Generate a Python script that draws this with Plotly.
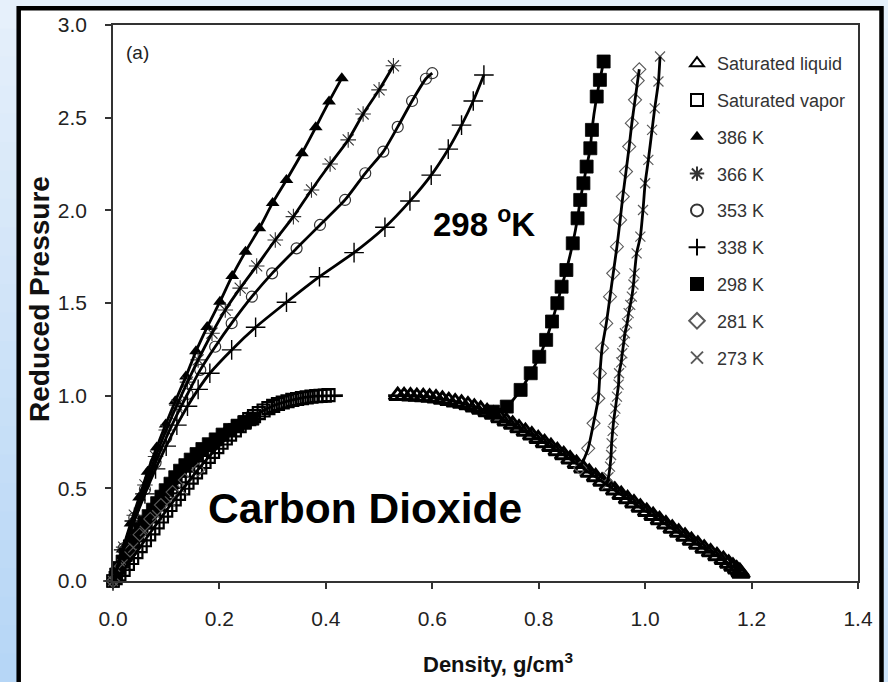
import plotly.graph_objects as go

# ---------------- data ----------------
# Saturated liquid (open triangles)
sl_d = [0.535, 0.547, 0.559, 0.571, 0.583, 0.595, 0.607, 0.619, 0.631, 0.643, 0.655, 0.667,
        0.679, 0.691, 0.703, 0.715, 0.727, 0.739, 0.751, 0.763, 0.775, 0.787, 0.799, 0.811,
        0.823, 0.835, 0.847, 0.859, 0.871, 0.883, 0.895, 0.907, 0.919, 0.931, 0.943, 0.955,
        0.967, 0.979, 0.991, 1.003, 1.015, 1.027, 1.039, 1.051, 1.063, 1.075, 1.087, 1.099,
        1.111, 1.123, 1.135, 1.147, 1.157, 1.165, 1.172, 1.178, 1.180]
sl_p = [1.000, 0.999, 0.997, 0.995, 0.993, 0.990, 0.986, 0.979, 0.972, 0.965, 0.958, 0.949,
        0.937, 0.925, 0.912, 0.898, 0.880, 0.862, 0.844, 0.825, 0.806, 0.786, 0.767, 0.745,
        0.724, 0.702, 0.680, 0.657, 0.633, 0.609, 0.585, 0.561, 0.537, 0.513, 0.489, 0.465,
        0.442, 0.420, 0.397, 0.374, 0.352, 0.329, 0.306, 0.283, 0.262, 0.240, 0.218, 0.197,
        0.176, 0.156, 0.135, 0.115, 0.095, 0.078, 0.064, 0.050, 0.040]

# Saturated vapor (open squares)
sv_d = [0.005, 0.012, 0.020, 0.028, 0.036, 0.044, 0.052, 0.060, 0.068, 0.076, 0.084, 0.092,
        0.100, 0.108, 0.116, 0.124, 0.132, 0.140, 0.148, 0.156, 0.164, 0.172, 0.180, 0.188,
        0.196, 0.204, 0.212, 0.220, 0.229, 0.238, 0.247, 0.256, 0.265, 0.274, 0.283, 0.292,
        0.301, 0.310, 0.319, 0.328, 0.337, 0.346, 0.355, 0.364, 0.373, 0.382, 0.390, 0.398, 0.405]
sv_p = [0.015, 0.036, 0.060, 0.092, 0.124, 0.156, 0.188, 0.220, 0.252, 0.284, 0.316, 0.348,
        0.380, 0.410, 0.440, 0.470, 0.500, 0.530, 0.558, 0.586, 0.613, 0.642, 0.670, 0.697,
        0.722, 0.746, 0.769, 0.790, 0.813, 0.835, 0.855, 0.873, 0.890, 0.906, 0.920, 0.933,
        0.945, 0.955, 0.963, 0.970, 0.977, 0.982, 0.987, 0.991, 0.995, 0.997, 0.999, 1.000, 1.003]

# Model lines for the saturation curves
svl_d = [0.0, 0.02, 0.06, 0.10, 0.14, 0.18, 0.22, 0.26, 0.30, 0.34, 0.38, 0.432]
svl_p = [0.0, 0.06, 0.22, 0.38, 0.53, 0.67, 0.79, 0.88, 0.944, 0.979, 0.997, 1.0]
sll_d = [0.517, 0.56, 0.60, 0.66, 0.71, 0.76, 0.80, 0.85, 0.90, 0.95, 1.00, 1.05, 1.10, 1.15, 1.18]
sll_p = [1.0, 0.998, 0.99, 0.955, 0.905, 0.83, 0.765, 0.675, 0.575, 0.475, 0.38, 0.285, 0.195, 0.11, 0.045]

# Supercritical isotherms
t386_d = [0, 0.018, 0.033, 0.049, 0.065, 0.082, 0.099, 0.117, 0.137, 0.156, 0.177, 0.201,
          0.224, 0.249, 0.275, 0.300, 0.326, 0.355, 0.381, 0.406, 0.430]
t386_p = [0, 0.17, 0.31, 0.45, 0.59, 0.72, 0.845, 0.97, 1.103, 1.24, 1.37, 1.507,
          1.646, 1.777, 1.903, 2.04, 2.164, 2.308, 2.448, 2.587, 2.713]
t366_d = [0, 0.02, 0.04, 0.06, 0.08, 0.10, 0.12, 0.14, 0.160, 0.186, 0.211, 0.239,
          0.270, 0.305, 0.339, 0.373, 0.408, 0.442, 0.470, 0.500, 0.527]
t366_p = [0, 0.183, 0.355, 0.518, 0.672, 0.815, 0.949, 1.073, 1.193, 1.337, 1.462, 1.58,
          1.70, 1.84, 1.966, 2.11, 2.25, 2.38, 2.52, 2.65, 2.78]
t353_d = [0, 0.02, 0.04, 0.06, 0.08, 0.10, 0.12, 0.14, 0.164, 0.192, 0.223, 0.261,
          0.299, 0.345, 0.389, 0.436, 0.474, 0.508, 0.535, 0.562, 0.588, 0.600]
t353_p = [0, 0.176, 0.341, 0.495, 0.639, 0.773, 0.896, 1.009, 1.139, 1.264, 1.391, 1.534,
          1.66, 1.795, 1.921, 2.056, 2.2, 2.317, 2.45, 2.59, 2.71, 2.74]
t338_d = [0, 0.02, 0.04, 0.06, 0.08, 0.10, 0.12, 0.14, 0.16, 0.182, 0.223, 0.268,
          0.326, 0.388, 0.453, 0.511, 0.558, 0.598, 0.630, 0.655, 0.677, 0.697]
t338_p = [0, 0.168, 0.324, 0.47, 0.605, 0.728, 0.841, 0.943, 1.034, 1.121, 1.247, 1.369,
          1.504, 1.642, 1.772, 1.909, 2.05, 2.19, 2.33, 2.46, 2.59, 2.73]

# Subcritical isotherms: vapour branch and liquid branch
t298_vap_d = [0.0, 0.006, 0.012, 0.018, 0.024, 0.031, 0.038, 0.045, 0.052, 0.059, 0.067, 0.075,
              0.083, 0.091, 0.099, 0.108, 0.117, 0.126, 0.136, 0.146, 0.157, 0.168, 0.180,
              0.193, 0.206, 0.220, 0.234, 0.248, 0.262]
t298_vap_p = [0.0, 0.035, 0.07, 0.105, 0.14, 0.175, 0.21, 0.245, 0.28, 0.315, 0.35, 0.385,
              0.42, 0.455, 0.49, 0.525, 0.56, 0.595, 0.625, 0.655, 0.685, 0.712, 0.738,
              0.764, 0.79, 0.815, 0.838, 0.858, 0.876]
t298_liq_d = [0.714, 0.740, 0.766, 0.785, 0.801, 0.814, 0.825, 0.835, 0.843, 0.852, 0.864, 0.873,
              0.878, 0.884, 0.890, 0.897, 0.900, 0.909, 0.915, 0.922]
t298_liq_p = [0.914, 0.941, 1.031, 1.121, 1.210, 1.301, 1.400, 1.499, 1.588, 1.678, 1.822, 1.957,
              2.056, 2.146, 2.236, 2.335, 2.434, 2.614, 2.704, 2.803]
t281_vap_d = [0.0, 0.015, 0.032, 0.050, 0.070, 0.090, 0.112, 0.135, 0.160]
t281_vap_p = [0.0, 0.08, 0.165, 0.25, 0.335, 0.41, 0.48, 0.545, 0.60]
t281_liq_d = [0.878, 0.893, 0.903, 0.912, 0.915, 0.919, 0.927, 0.934, 0.940, 0.947, 0.953, 0.958,
              0.964, 0.970, 0.975, 0.981, 0.986, 0.989]
t281_liq_p = [0.61, 0.716, 0.851, 0.986, 1.12, 1.256, 1.39, 1.534, 1.66, 1.804, 1.948, 2.074,
              2.209, 2.344, 2.47, 2.596, 2.70, 2.761]
t273_vap_d = [0.0, 0.018, 0.038, 0.060, 0.083, 0.107, 0.130]
t273_vap_p = [0.0, 0.09, 0.18, 0.27, 0.355, 0.43, 0.49]
t273_liq_d = [0.928, 0.931, 0.934, 0.936, 0.937, 0.939, 0.941, 0.944, 0.947, 0.950, 0.951, 0.955,
              0.957, 0.960, 0.962, 0.966, 0.969, 0.972, 0.975, 0.978, 0.980, 0.984, 0.991, 0.996,
              1.000, 1.006, 1.013, 1.018, 1.025, 1.028]
t273_liq_p = [0.52, 0.56, 0.617, 0.68, 0.743, 0.81, 0.869, 0.93, 0.995, 1.06, 1.121, 1.18,
              1.229, 1.29, 1.337, 1.39, 1.445, 1.49, 1.534, 1.60, 1.66, 1.768, 1.858, 2.002,
              2.146, 2.272, 2.434, 2.55, 2.695, 2.83]

x_ticks = [0.0, 0.2, 0.4, 0.6, 0.8, 1.0, 1.2, 1.4]
y_ticks = [0.0, 0.5, 1.0, 1.5, 2.0, 2.5, 3.0]

# ---------------- styling ----------------
SANS = "Liberation Sans, Arial, sans-serif"
GRAY = "#5a5a5a"

L, R, T, B = 113, 858, 25, 581
W, H = R - L, B - T


def xp(px):
    return (px - L) / W


def yp(py):
    return (B - py) / H


fig = go.Figure()


def add_markers(name, d, p, symbol, size, color, lw, group):
    fig.add_trace(go.Scatter(
        x=d, y=p, mode="markers", name=name, legendgroup=group,
        marker=dict(symbol=symbol, size=size, color=color,
                    line=dict(color=color, width=lw)),
        cliponaxis=False))


def add_line(d, p, group, width=2.8):
    fig.add_trace(go.Scatter(
        x=d, y=p, mode="lines", showlegend=False, legendgroup=group,
        line=dict(color="black", width=width, shape="spline", smoothing=0.6),
        hoverinfo="skip", cliponaxis=False))


add_markers("Saturated liquid", sl_d, sl_p, "triangle-up-open", 15, "black", 3.0, "g1")
add_markers("Saturated vapor", sv_d, sv_p, "square-open", 12, "black", 2.2, "g2")
add_markers("386 K", t386_d, t386_p, "triangle-up", 12, "black", 0, "g3")
add_markers("366 K", t366_d, t366_p, "asterisk-open", 13, "#333333", 1.1, "g4")
add_markers("353 K", t353_d, t353_p, "circle-open", 11, "#333333", 1.2, "g5")
add_markers("338 K", t338_d, t338_p, "cross-thin-open", 14, "black", 1.4, "g6")
add_markers("298 K", t298_vap_d + t298_liq_d, t298_vap_p + t298_liq_p, "square", 13, "black", 0.8, "g7")
add_markers("281 K", t281_vap_d + t281_liq_d, t281_vap_p + t281_liq_p, "diamond-open", 10, GRAY, 1.1, "g8")
add_markers("273 K", t273_vap_d + t273_liq_d, t273_vap_p + t273_liq_p, "x-thin-open", 10, GRAY, 1.2, "g9")

add_line(sll_d, sll_p, "g1")
add_line(svl_d, svl_p, "g2")
add_line(t386_d, t386_p, "g3")
add_line(t366_d, t366_p, "g4")
add_line(t353_d, t353_p, "g5")
add_line(t338_d, t338_p, "g6")
add_line(t298_liq_d, t298_liq_p, "g7")
add_line(t281_liq_d, t281_liq_p, "g8")
add_line(t273_liq_d, t273_liq_p, "g9")

# ---------------- background / frame ----------------
shapes = []
n = 24
c_top, c_bot = (230, 240, 251), (182, 214, 246)
r_top, r_bot = (230, 241, 252), (205, 228, 250)
for i in range(n):
    t = i / (n - 1)
    col = "rgb(%d,%d,%d)" % tuple(int(a + (b - a) * t) for a, b in zip(c_top, c_bot))
    colr = "rgb(%d,%d,%d)" % tuple(int(a + (b - a) * t) for a, b in zip(r_top, r_bot))
    y0, y1 = 682 * i / n, 682 * (i + 1) / n + 1
    shapes.append(dict(type="rect", xref="paper", yref="paper", layer="below",
                       x0=xp(0), x1=xp(22), y0=yp(y1), y1=yp(y0),
                       fillcolor=col, line=dict(width=0)))
    shapes.append(dict(type="rect", xref="paper", yref="paper", layer="below",
                       x0=xp(878), x1=xp(888), y0=yp(y1), y1=yp(y0),
                       fillcolor=colr, line=dict(width=0)))
shapes.append(dict(type="rect", xref="paper", yref="paper", layer="below",
                   x0=xp(18.7), x1=xp(881.5), y0=yp(700), y1=yp(8.2),
                   fillcolor="white", line=dict(color="black", width=4.5)))

annotations = [
    dict(text="(a)", xref="paper", yref="paper", x=xp(124), y=yp(52),
         xanchor="left", yanchor="middle", showarrow=False,
         font=dict(family=SANS, size=19, color="#222")),
    dict(text="298 <sup>o</sup>K", xref="paper", yref="paper", x=xp(484), y=yp(222),
         xanchor="center", yanchor="middle", showarrow=False,
         font=dict(family=SANS, size=33, color="black", weight="bold")),
    dict(text="Carbon Dioxide", xref="paper", yref="paper", x=xp(365), y=yp(508),
         xanchor="center", yanchor="middle", showarrow=False,
         font=dict(family=SANS, size=42.5, color="black", weight="bold")),
    dict(text="Density, g/cm<sup>3</sup>", xref="paper", yref="paper", x=xp(498), y=yp(663),
         xanchor="center", yanchor="middle", showarrow=False,
         font=dict(family=SANS, size=22, color="#111", weight="bold")),
    dict(text="Reduced Pressure", xref="paper", yref="paper", x=xp(39), y=yp(299),
         xanchor="center", yanchor="middle", showarrow=False, textangle=-90,
         font=dict(family=SANS, size=28, color="#111", weight="bold")),
]

axis_common = dict(showgrid=False, zeroline=False, showline=True, linecolor="#333",
                   linewidth=1.6, mirror=True, ticks="outside", ticklen=6,
                   tickwidth=1.6, tickcolor="#333",
                   tickfont=dict(family=SANS, size=21, color="#222"))

fig.update_layout(
    width=888, height=682,
    margin=dict(l=L, r=888 - R, t=T, b=682 - B),
    paper_bgcolor="#e6f1fb", plot_bgcolor="white",
    shapes=shapes, annotations=annotations,
    xaxis=dict(range=[0, 1.4], tickvals=x_ticks, tickformat=".1f",
               ticklabelstandoff=12, **axis_common),
    yaxis=dict(range=[0, 3.0], tickvals=y_ticks, tickformat=".1f",
               ticklabelstandoff=14, **axis_common),
    showlegend=True,
    legend=dict(x=xp(677), y=yp(45), xanchor="left", yanchor="top",
                traceorder="grouped", tracegroupgap=10.4, itemsizing="constant",
                bgcolor="rgba(0,0,0,0)", borderwidth=0,
                font=dict(family=SANS, size=18, color="#333")),
)

fig.write_html("out.html", config={"displayModeBar": False},
               post_script="document.body.style.margin='0px';")
